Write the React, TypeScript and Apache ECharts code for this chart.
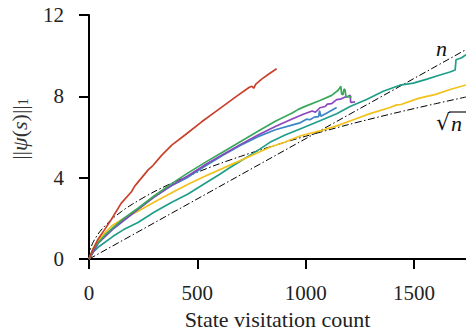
import React, { useEffect, useRef } from "react";
import * as echarts from "echarts";

// Tick values
const xTicks = [0, 500, 1000, 1500];
const yTicks = [0, 4, 8, 12];

// Series values: [state visitation count, ||psi(s)||_1]
const redData: [number, number][] = [
  [0, 0], [15, 0.4], [40, 0.95], [72, 1.45], [103, 1.95], [149, 2.75], [195, 3.3],
  [212, 3.6], [274, 4.4], [295, 4.6], [335, 5.1], [382, 5.6], [443, 6.1], [520, 6.75],
  [597, 7.35], [674, 7.95], [740, 8.45], [752, 8.5], [760, 8.4], [770, 8.6], [797, 8.85],
  [830, 9.1], [866, 9.36],
];

const greenData: [number, number][] = [
  [0, 0], [20, 0.5], [42, 0.8], [75, 1.2], [111, 1.55], [160, 2.0], [226, 2.5], [300, 3.1],
  [380, 3.7], [457, 4.24], [540, 4.78], [620, 5.28], [700, 5.78], [780, 6.28], [860, 6.78],
  [940, 7.2], [966, 7.36], [1000, 7.52], [1066, 7.8], [1120, 8.05], [1150, 8.3], [1158, 8.42],
  [1162, 8.5], [1166, 8.12], [1172, 8.08], [1177, 8.36], [1182, 8.32], [1186, 7.98],
  [1200, 8.0], [1212, 7.95],
];

const purpleData: [number, number][] = [
  [0, 0], [42, 0.78], [111, 1.5], [226, 2.45], [300, 3.05], [380, 3.62], [457, 4.1],
  [540, 4.66], [620, 5.16], [700, 5.64], [780, 6.1], [860, 6.52], [940, 6.9], [989, 7.12],
  [1030, 7.28], [1045, 7.22], [1066, 7.44], [1090, 7.5], [1100, 7.62], [1120, 7.64],
  [1143, 7.84], [1160, 7.86], [1180, 7.96], [1195, 7.98], [1205, 8.06], [1208, 7.7],
  [1228, 7.73],
];

const blueData: [number, number][] = [
  [0, 0], [42, 0.78], [111, 1.48], [226, 2.45], [300, 3.05], [380, 3.6], [457, 4.03],
  [540, 4.6], [620, 5.12], [700, 5.6], [780, 6.02], [860, 6.36], [940, 6.6], [974, 6.7],
  [1004, 6.88], [1020, 6.85], [1040, 6.98], [1060, 7.0], [1064, 7.3], [1070, 7.02],
  [1100, 7.2], [1143, 7.45],
];

const tealData: [number, number][] = [
  [0, 0], [20, 0.35], [42, 0.58], [111, 1.12], [160, 1.45], [226, 1.8], [300, 2.3],
  [380, 2.78], [457, 3.2], [540, 3.75], [600, 4.15], [651, 4.5], [700, 4.82], [735, 5.05],
  [790, 5.42], [835, 5.74], [905, 6.1], [974, 6.4], [1066, 6.8], [1143, 7.15], [1205, 7.5],
  [1281, 7.85], [1358, 8.25], [1435, 8.55], [1497, 8.65], [1560, 8.85], [1620, 9.05],
  [1666, 9.2], [1690, 9.3], [1694, 9.8], [1720, 9.9], [1740, 10.05],
];

const yellowData: [number, number][] = [
  [0, 0], [20, 0.55], [42, 0.9], [75, 1.32], [111, 1.68], [160, 2.0], [226, 2.35],
  [300, 2.8], [380, 3.25], [457, 3.68], [540, 4.1], [651, 4.62], [735, 5.02], [835, 5.5],
  [905, 5.76], [974, 6.05], [1066, 6.3], [1143, 6.55], [1220, 6.85], [1297, 7.15],
  [1389, 7.45], [1420, 7.58], [1440, 7.6], [1520, 7.9], [1600, 8.1], [1670, 8.35],
  [1740, 8.56],
];

// Reference curves
const linearRef: [number, number][] = [[0, 0], [1740, 10.3]];
const sqrtRef: [number, number][] = [
  [0, 0], [2, 0.27], [5, 0.43], [10, 0.6], [20, 0.85], [50, 1.35], [100, 1.91],
  [150, 2.34], [200, 2.7], [300, 3.31], [400, 3.82], [500, 4.27], [600, 4.68],
  [700, 5.05], [800, 5.4], [900, 5.73], [1000, 6.04], [1200, 6.62], [1400, 7.15],
  [1600, 7.64], [1740, 7.97],
];

const FONT = "Liberation Serif";

export default function App() {
  const ref = useRef<HTMLDivElement>(null);
  useEffect(() => {
    if (!ref.current) return;
    const chart = echarts.init(ref.current, null, { renderer: "svg" });
    const lineSeries = (name: string, data: [number, number][], color: string, z: number) => ({
      name,
      type: "line",
      data,
      showSymbol: false,
      symbol: "none",
      z,
      lineStyle: { color, width: 1.7 },
      itemStyle: { color },
    });
    const dashDot = [7, 2.5, 1.5, 2.5];
    chart.setOption({
      animation: false,
      backgroundColor: "#fff",
      textStyle: { fontFamily: FONT },
      grid: { left: 89, right: 0, top: 15, bottom: 70, containLabel: false },
      xAxis: {
        type: "value",
        min: xTicks[0],
        max: 1740,
        interval: xTicks[1] - xTicks[0],
        offset: 10,
        name: "State visitation count",
        nameLocation: "middle",
        nameGap: 38,
        nameTextStyle: { fontFamily: FONT, fontSize: 22, color: "#222" },
        axisLine: { lineStyle: { color: "#000", width: 2 } },
        axisTick: { length: 10, lineStyle: { color: "#000", width: 2 } },
        axisLabel: {
          fontFamily: FONT, fontSize: 21, color: "#222", margin: 13,
          showMaxLabel: false,
          formatter: (v: number) => String(v),
        },
        splitLine: { show: false },
      },
      yAxis: {
        type: "value",
        min: yTicks[0],
        max: yTicks[yTicks.length - 1],
        interval: yTicks[1] - yTicks[0],
        offset: 11,
        name: "{a|||}{b|ψ}{a|(}{b|s}{a|)||}{c|1}",
        nameLocation: "middle",
        nameGap: 48,
        nameRotate: 90,
        nameTextStyle: {
          fontFamily: FONT,
          fontSize: 22,
          color: "#333",
          padding: [0, 0, 0, 16],
          rich: {
            a: { fontFamily: FONT, fontSize: 22, color: "#333", lineHeight: 22, verticalAlign: "middle" },
            b: { fontFamily: FONT, fontSize: 22, fontStyle: "italic", color: "#333", lineHeight: 22, verticalAlign: "middle" },
            c: { fontFamily: FONT, fontSize: 14, color: "#333", lineHeight: 22, verticalAlign: "bottom" },
          },
        },
        axisLine: { show: true, lineStyle: { color: "#000", width: 2 } },
        axisTick: { show: true, length: 10, lineStyle: { color: "#000", width: 2 } },
        axisLabel: {
          fontFamily: FONT, fontSize: 21, color: "#222", margin: 14,
          formatter: (v: number) => String(v),
        },
        splitLine: { show: false },
      },
      series: [
        {
          name: "n", type: "line", data: linearRef, showSymbol: false, symbol: "none", z: 1,
          lineStyle: { color: "#000", width: 1, type: dashDot },
        },
        {
          name: "sqrt n", type: "line", data: sqrtRef, showSymbol: false, symbol: "none", z: 1,
          smooth: 0.3,
          lineStyle: { color: "#000", width: 1, type: dashDot },
        },
        lineSeries("teal", tealData, "#1f9e89", 2),
        lineSeries("yellow", yellowData, "#f2c11a", 3),
        lineSeries("blue", blueData, "#3b86c6", 4),
        lineSeries("purple", purpleData, "#8a47bd", 5),
        lineSeries("green", greenData, "#3aa85b", 6),
        lineSeries("red", redData, "#c9402b", 7),
      ],
      graphic: [
        {
          type: "text", x: 436, y: 48,
          style: { text: "n", font: 'italic 22px "Liberation Serif"', fill: "#111", verticalAlign: "middle" },
        },
        {
          type: "text", x: 436, y: 122,
          style: { text: "√", font: '22px "DejaVu Serif"', fill: "#111", verticalAlign: "middle" },
        },
        {
          type: "text", x: 451, y: 123,
          style: { text: "n", font: 'italic 22px "Liberation Serif"', fill: "#111", verticalAlign: "middle" },
        },
        {
          type: "line", shape: { x1: 449, y1: 112, x2: 466, y2: 112 },
          style: { stroke: "#111", lineWidth: 1.2 },
        },
      ],
    });
    return () => chart.dispose();
  }, []);
  return (
    <div
      ref={ref}
      style={{ position: "fixed", left: 0, top: 0, width: 466, height: 335 }}
    />
  );
}
